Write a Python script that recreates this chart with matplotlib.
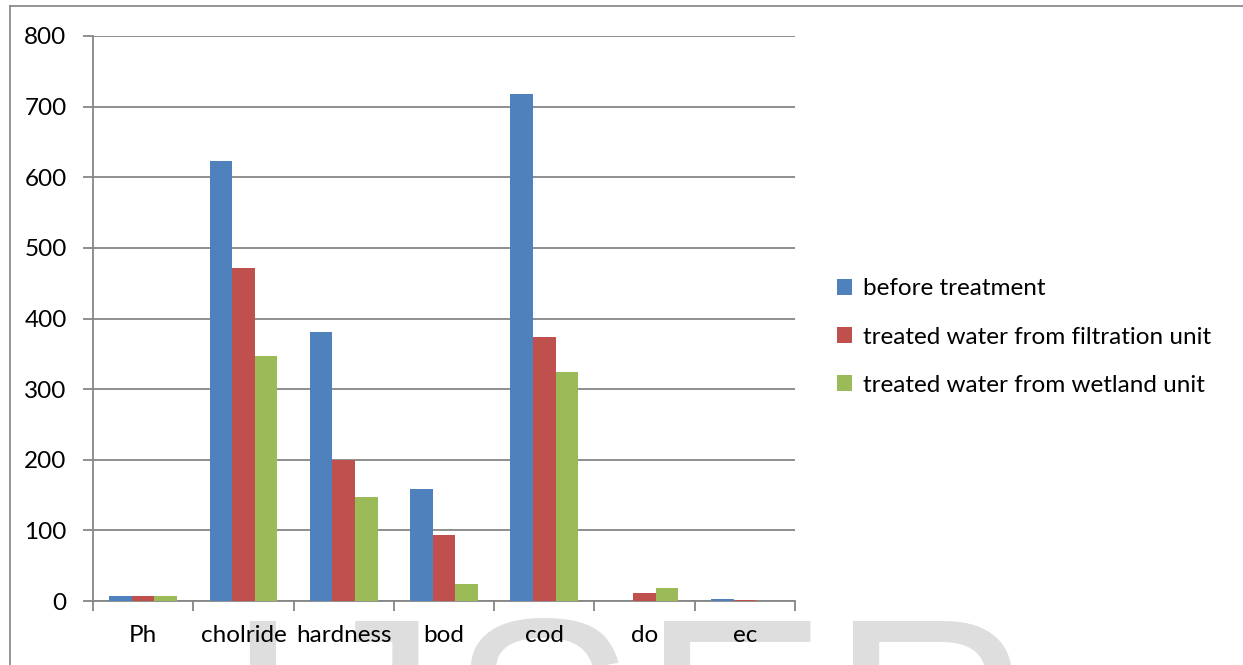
import numpy as np
import matplotlib.pyplot as plt
from matplotlib.lines import Line2D
from matplotlib.ticker import FixedLocator, NullFormatter

# water quality parameters
params = ['Ph', 'cholride', 'hardness', 'bod', 'cod', 'do', 'ec']
before = [7.2, 623, 381, 159, 718, 0, 3]
filtration = [7.1, 472, 200, 94, 374, 11, 2]
wetland = [7.0, 347, 147, 24, 324, 19, 0.5]

series = ['before treatment', 'treated water from filtration unit',
          'treated water from wetland unit']
colors = ['#4F81BD', '#C0504D', '#9BBB59']

plt.rcParams['font.family'] = ['Lato', 'DejaVu Sans']

fig = plt.figure(figsize=(12.43, 6.65), dpi=100)
fig.patch.set_facecolor('white')

# faint watermark letters behind the category labels
for ch, xc in zip('IJSER', [262, 369, 542, 735, 931]):
    fig.text(xc / 1243, 1 - 814 / 665, ch, fontsize=202, color='#dedede',
             family='Liberation Sans', ha='center', va='baseline', zorder=-1)

# outer frame (top and left edges)
fig.add_artist(Line2D([10 / 1243, 1], [1 - 6 / 665, 1 - 6 / 665],
                      color='#8c8c8c', lw=1.3, transform=fig.transFigure))
fig.add_artist(Line2D([10 / 1243, 10 / 1243], [0, 1 - 6 / 665],
                      color='#8c8c8c', lw=1.3, transform=fig.transFigure))

ax = fig.add_axes([93 / 1243, 1 - 601 / 665, (795 - 93) / 1243, (601 - 36) / 665])

x = np.arange(len(params))
w = 0.225
for i, (vals, lab, c) in enumerate(zip([before, filtration, wetland], series, colors)):
    ax.bar(x + (i - 1) * w, vals, w, color=c, label=lab, zorder=3)

ax.set_xlim(-0.5, len(params) - 0.5)
ax.set_ylim(0, 800)
ax.set_yticks(range(0, 801, 100))
ax.yaxis.grid(True, color='#868686', lw=1.3, zorder=0)

ax.xaxis.set_major_locator(FixedLocator(np.arange(-0.5, len(params), 1)))
ax.xaxis.set_major_formatter(NullFormatter())
ax.xaxis.set_minor_locator(FixedLocator(x))
ax.set_xticklabels(params, minor=True)

ax.tick_params(axis='x', which='major', length=7, width=1.3, color='#868686')
ax.tick_params(axis='x', which='minor', length=0, pad=17, labelsize=17.5)
ax.tick_params(axis='y', length=7, width=1.3, color='#868686', pad=12, labelsize=17.5)

for s in ['top', 'right']:
    ax.spines[s].set_visible(False)
for s in ['left', 'bottom']:
    ax.spines[s].set_color('#868686')
    ax.spines[s].set_linewidth(1.3)

leg = fig.legend(loc='center left', bbox_to_anchor=(815 / 1243, 1 - 337 / 665),
                 frameon=False, fontsize=17.5, handlelength=0.62, handleheight=0.62,
                 handletextpad=0.45, labelspacing=1.12)

fig.savefig('out.png', dpi=100, facecolor='white')
